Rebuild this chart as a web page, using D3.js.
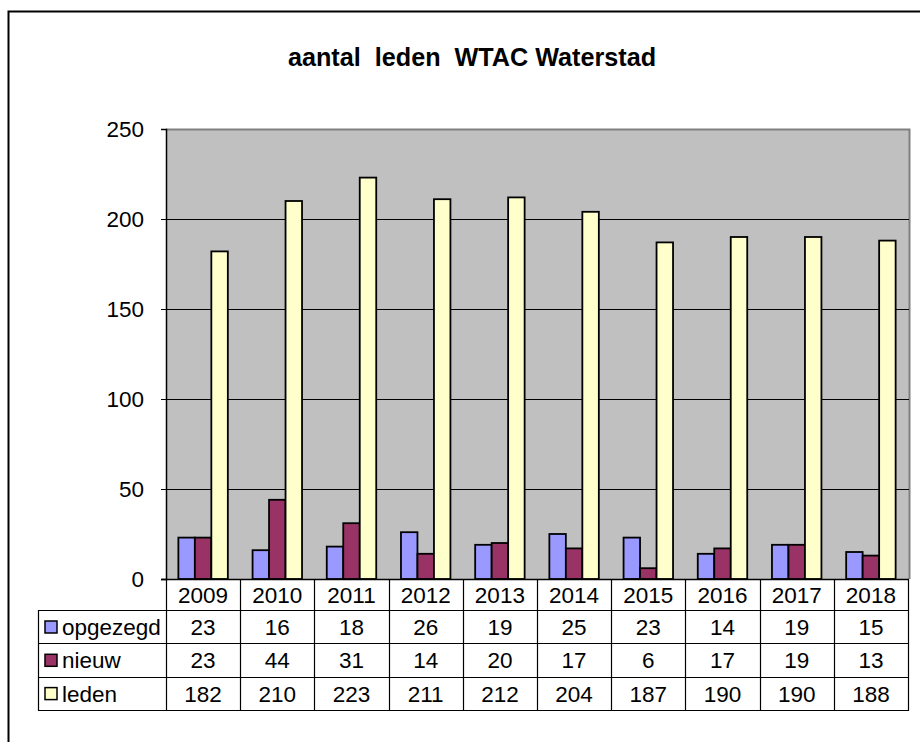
<!DOCTYPE html>
<html lang="nl">
<head>
<meta charset="UTF-8">
<title>aantal leden WTAC Waterstad</title>
<script src="https://d3js.org/d3.v7.min.js"></script>
<style>
  body { margin: 0; background: #fff; }
  svg { display: block; font-family: "Liberation Sans", Arial, sans-serif; }
</style>
</head>
<body>
<svg width="920" height="742"></svg>
<script>
// jaren en reeksen
const years = ["2009", "2010", "2011", "2012", "2013", "2014", "2015", "2016", "2017", "2018"];
const seriesNames = ["opgezegd", "nieuw", "leden"];
const opgezegd = [23, 16, 18, 26, 19, 25, 23, 14, 19, 15];
const nieuw = [23, 44, 31, 14, 20, 17, 6, 17, 19, 13];
const leden = [182, 210, 223, 211, 212, 204, 187, 190, 190, 188];
const yTicks = [0, 50, 100, 150, 200, 250];
const colors = ["#9999ff", "#993366", "#ffffcc"];

const values = [opgezegd, nieuw, leden];
const fs = 22.5;

const svg = d3.select("svg");

// buitenrand
svg.append("rect")
  .attr("x", 8.5).attr("y", 11.5)
  .attr("width", 1000).attr("height", 1000)
  .attr("fill", "none").attr("stroke", "#000").attr("stroke-width", 2);

// titel
svg.append("text")
  .attr("x", 472).attr("y", 66)
  .attr("text-anchor", "middle")
  .attr("font-size", 25.2).attr("font-weight", "bold")
  .style("white-space", "pre")
  .text("aantal  leden  WTAC Waterstad");

const pLeft = 166, pRight = 908, pTop = 129, pBottom = 579;

const x0 = d3.scaleBand().domain(years).range([pLeft, pRight]).padding(0);
const x1 = d3.scaleBand().domain(seriesNames).range([0, x0.bandwidth()])
  .paddingInner(0).paddingOuter(0.75);
const y = d3.scaleLinear().domain([0, 250]).range([pBottom, pTop]);

// plotgebied
svg.append("rect")
  .attr("x", pLeft).attr("y", pTop)
  .attr("width", pRight + 1 - pLeft).attr("height", pBottom - pTop)
  .attr("fill", "#c0c0c0");
svg.append("path")
  .attr("d", `M${pLeft},${pTop + 0.5}H${pRight + 1.5}V${pBottom}`)
  .attr("fill", "none").attr("stroke", "#808080").attr("stroke-width", 2);

// rasterlijnen
svg.append("g").selectAll("line")
  .data(yTicks.filter(d => d > 0 && d < 250))
  .join("line")
  .attr("x1", pLeft).attr("x2", pRight + 1)
  .attr("y1", d => Math.round(y(d)) + 0.5).attr("y2", d => Math.round(y(d)) + 0.5)
  .attr("stroke", "#000").attr("stroke-width", 1);

// y-as
const yAxis = svg.append("g")
  .attr("transform", `translate(${pLeft},0)`)
  .call(d3.axisLeft(y).tickValues(yTicks).tickSize(5).tickPadding(17));
yAxis.select(".domain").attr("stroke", "#000").attr("stroke-width", 1.5);
yAxis.selectAll(".tick line").attr("stroke", "#000");
yAxis.selectAll(".tick text")
  .attr("font-size", fs).attr("font-family", "Liberation Sans, Arial, sans-serif")
  .attr("fill", "#000");

// staven
const groups = svg.append("g").selectAll("g")
  .data(years)
  .join("g")
  .attr("transform", d => `translate(${x0(d)},0)`);

groups.selectAll("rect")
  .data((yr, i) => seriesNames.map((s, j) => ({ s, v: values[j][i], c: colors[j] })))
  .join("rect")
  .attr("x", d => x1(d.s))
  .attr("y", d => y(d.v))
  .attr("width", x1.bandwidth())
  .attr("height", d => pBottom - y(d.v))
  .attr("fill", d => d.c)
  .attr("stroke", "#000").attr("stroke-width", 1.8);

// nullijn
svg.append("line")
  .attr("x1", pLeft - 5).attr("x2", pRight + 1)
  .attr("y1", pBottom + 0.5).attr("y2", pBottom + 0.5)
  .attr("stroke", "#000").attr("stroke-width", 1.5);

// gegevenstabel
const tLeft = 38, headBottom = 610, rowH = 33.3;
const table = svg.append("g");

// koprij: jaren
table.selectAll(".yr")
  .data(years)
  .join("text")
  .attr("x", d => x0(d) + x0.bandwidth() / 2)
  .attr("y", pBottom + 24)
  .attr("text-anchor", "middle")
  .attr("font-size", fs)
  .text(d => d);

// rijen
seriesNames.forEach((s, j) => {
  const ry = headBottom + j * rowH;
  table.append("rect")
    .attr("x", tLeft + 7).attr("y", ry + 11)
    .attr("width", 12).attr("height", 12)
    .attr("fill", colors[j]).attr("stroke", "#000").attr("stroke-width", 1.5);
  table.append("text")
    .attr("x", tLeft + 24).attr("y", ry + 25)
    .attr("font-size", fs)
    .text(s);
  table.selectAll(".v" + j)
    .data(values[j])
    .join("text")
    .attr("x", (d, i) => x0(years[i]) + x0.bandwidth() / 2)
    .attr("y", ry + 25)
    .attr("text-anchor", "middle")
    .attr("font-size", fs)
    .text(d => d);
});

// tabellijnen
const tBottom = headBottom + 3 * rowH;
const gridColor = "#000";
// horizontale lijnen
[headBottom, headBottom + rowH, headBottom + 2 * rowH, tBottom].forEach(hy => {
  table.append("line")
    .attr("x1", tLeft).attr("x2", pRight + 1)
    .attr("y1", Math.round(hy) + 0.5).attr("y2", Math.round(hy) + 0.5)
    .attr("stroke", gridColor).attr("stroke-width", 1.2);
});
// verticale lijnen
table.append("line")
  .attr("x1", tLeft + 0.5).attr("x2", tLeft + 0.5)
  .attr("y1", headBottom).attr("y2", Math.round(tBottom) + 1)
  .attr("stroke", gridColor).attr("stroke-width", 1.2);
years.forEach(yr => {
  const vx = Math.round(x0(yr)) + 0.5;
  table.append("line")
    .attr("x1", vx).attr("x2", vx)
    .attr("y1", pBottom).attr("y2", Math.round(tBottom) + 1)
    .attr("stroke", gridColor).attr("stroke-width", 1.2);
});
table.append("line")
  .attr("x1", pRight + 0.5).attr("x2", pRight + 0.5)
  .attr("y1", pBottom).attr("y2", Math.round(tBottom) + 1)
  .attr("stroke", gridColor).attr("stroke-width", 1.2);
</script>
</body>
</html>
